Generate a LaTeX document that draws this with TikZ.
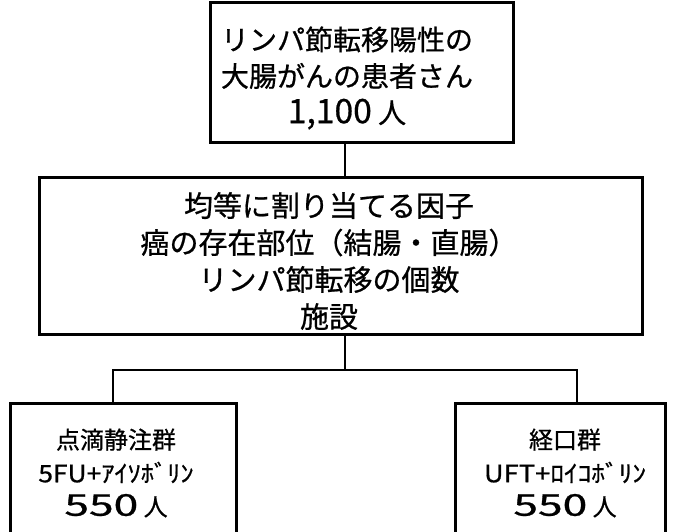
\documentclass[tikz,border=0pt]{standalone}
\usepackage{fontspec}
\usepackage{graphicx}
\setmainfont{Noto Sans CJK JP}[FakeBold=0.7]
\newcommand\wnum[3]{\scalebox{#1}[#2]{#3}}
\begin{document}
\begin{tikzpicture}[x=1pt,y=-1pt,
  box/.style={draw, line width=3pt, inner sep=0pt},
  conn/.style={draw, line width=2.6pt},
  toptext/.style={align=center, inner sep=0pt, font=\fontsize{28}{36.5}\selectfont},
  midtext/.style={align=center, inner sep=0pt, font=\fontsize{29}{37}\selectfont},
  smalltxt/.style={align=center, inner sep=0pt, font=\fontsize{24}{33.5}\selectfont}]
\useasboundingbox (0,0) rectangle (675,532);
\clip (0,0) rectangle (675,532);
% boxes
\node[box, minimum width=303pt, minimum height=140pt] (top) at (361.5,73) {};
\node[box, minimum width=603pt, minimum height=156pt] (mid) at (340.5,256) {};
\node[box, minimum width=226pt, minimum height=150pt] (left) at (123,478) {};
\node[box, minimum width=210pt, minimum height=150pt] (right) at (560,478) {};
% texts
\node[toptext] (toptxt) at (347,78) {リンパ節転移陽性の\\大腸がんの患者さん\\\wnum{1.2}{1.2}{1,100} 人};
\node[midtext] (midtxt) at (329,261) {均等に割り当てる因子\\癌の存在部位（結腸・直腸）\\リンパ節転移の個数\\施設};
\node[smalltxt] (lefttxt) at (116,473) {点滴静注群\\\scalebox{1.1}[1]{5FU+ｱｲｿﾎﾞﾘﾝ}\\\wnum{1.85}{1.25}{550} 人};
\node[smalltxt] (righttxt) at (565,473) {経口群\\\scalebox{1.14}[1]{UFT+ﾛｲｺﾎﾞﾘﾝ}\\\wnum{1.85}{1.25}{550} 人};
% junctions
\coordinate (j) at (345,370);
\coordinate (jl) at (113,370);
\coordinate (jr) at (577,370);
% connectors
\draw[conn] (j |- top.south) -- (j |- mid.north);
\draw[conn] (j |- mid.south) -- (j);
\draw[conn] (jl |- left.north) -- (jl) -- (jr) -- (jr |- right.north);
\end{tikzpicture}
\end{document}
